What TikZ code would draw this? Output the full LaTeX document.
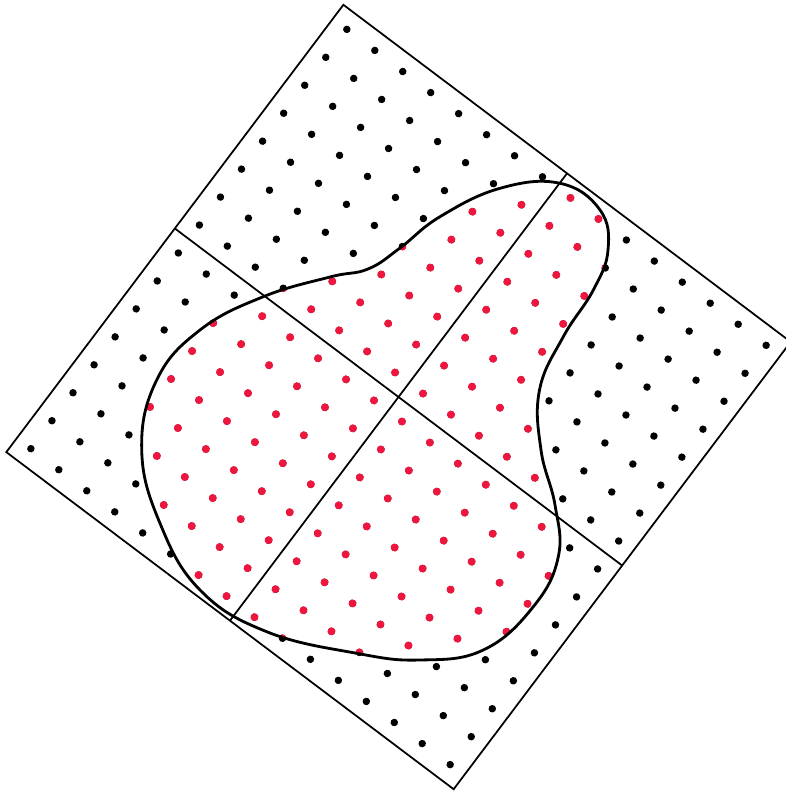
\documentclass[tikz,border=0pt]{standalone}
\usetikzlibrary{calc}
\definecolor{dotred}{RGB}{238,22,62}

\begin{document}
\begin{tikzpicture}[
    x=0.02cm, y=-0.02cm,
    frame/.style={draw, line width=1pt},
    blobline/.style={draw, line width=1.6pt},
    dot/.style={fill=black},
    reddot/.style={fill=dotred}
]
\useasboundingbox (0,0) rectangle (786,793);
% the blob outline, in picture coordinates
\def\blobpath{plot[smooth cycle, tension=0.7] coordinates {
    (141.7,450) (156.7,380) (200,330) (263.3,296.7) (330,277) (368,269)
    (400,248) (440,216.7) (500,188.3) (560,183.3) (600,210) (608,250)
    (593.3,290) (563.3,336.7) (539.5,390) (541,450) (555,505) (558.3,556.7)
    (533.3,606.7) (483.3,650) (420,660) (356.7,653.3) (266.7,631.7)
    (200,590) (160,523.3)}}
% rotated square with its dots
\begin{scope}[shift={(398.5,397)}, rotate=-37]
  \coordinate (T) at (-280,-280);
  \coordinate (R) at (280,-280);
  \coordinate (B) at (280,280);
  \coordinate (L) at (-280,280);
  \foreach \i in {0,...,15}
    \foreach \j in {0,...,15}
      \path[dot] (\i*35-262.5, \j*35-262.5) circle[radius=0.075cm];
  \draw[frame] (T) -- (R) -- (B) -- (L) -- cycle;
  \draw[frame] ($(T)!0.5!(L)$) -- ($(R)!0.5!(B)$);
  \draw[frame] ($(T)!0.5!(R)$) -- ($(L)!0.5!(B)$);
\end{scope}
% dots inside the blob turn red
\begin{scope}
  \clip \blobpath;
  \begin{scope}[shift={(398.5,397)}, rotate=-37]
    \foreach \i in {0,...,15}
      \foreach \j in {0,...,15}
        \path[reddot] (\i*35-262.5, \j*35-262.5) circle[radius=0.08cm];
  \end{scope}
\end{scope}
\draw[blobline] \blobpath;
\end{tikzpicture}
\end{document}
